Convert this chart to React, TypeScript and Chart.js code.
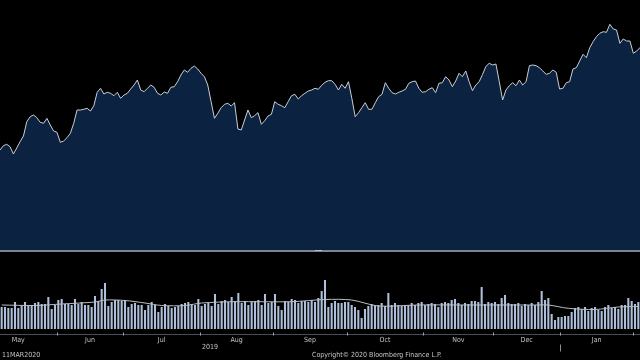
import React, { useEffect, useRef } from "react";
import { Chart, registerables } from "chart.js";

Chart.register(...registerables);

// Daily closing price (≈ mid-May 2019 → early Feb 2020)
const priceValues: number[] = [
  100, 104.3, 105.7, 103.3, 96, 102, 108.3, 114, 128.3, 133.3,
  135, 132.3, 127.7, 126.7, 131.7, 125, 119, 117.7, 107.7, 109,
  112.3, 116.7, 126.7, 140, 140, 140.7, 141.7, 139, 144.3, 157.7,
  161.7, 156, 157.7, 156.7, 154.3, 157.7, 151.7, 155, 156.7, 161,
  165, 170, 160, 158.3, 161.7, 165, 162.7, 156.7, 155, 158,
  156.7, 162.7, 163.3, 168.3, 175, 180, 177.7, 181.7, 184, 181,
  176.7, 173.3, 165, 148.3, 131.7, 136.7, 142.3, 145.7, 146.7, 144,
  147.3, 121, 120, 130, 140, 132.3, 134.3, 137.3, 125.7, 129.3,
  134, 135.7, 148.3, 145.7, 144.3, 142.3, 148.3, 154.3, 155.7, 151,
  154.3, 156.7, 159, 160, 161.7, 160.7, 164.7, 167.7, 169.3, 169.3,
  165.7, 160, 165.7, 161.7, 168.3, 151.7, 133.3, 137.3, 142.3, 147.3,
  140.7, 140.7, 147.3, 153.3, 155.7, 167.3, 161.7, 157.3, 156, 157.7,
  159, 160.7, 166.7, 168.3, 169, 161.7, 157.7, 158.3, 160.7, 162.3,
  157.3, 166.7, 167.3, 173.3, 170, 163.3, 169, 176.7, 173.3, 179,
  168.3, 159.3, 165, 168.3, 175.5, 183.5, 186.7, 185, 186, 168.3,
  150, 160, 164.3, 167.3, 164.3, 170, 165, 168.3, 184.3, 185,
  184.3, 182.3, 179, 175.7, 176.7, 180, 177.7, 161, 161.7, 167.3,
  168.3, 181, 182.3, 189, 195.7, 192.3, 202.3, 208.3, 213.3, 216.7,
  218.3, 217.7, 225.7, 221, 220, 206.7, 211, 209, 209, 196.7,
  199, 202.3,
];

// Daily volume
const volumeValues: number[] = [
  22, 22, 21, 21, 27, 21, 23, 27, 24, 23,
  26, 27, 25, 25, 32, 20, 24, 29, 30, 25,
  25, 24, 30, 25, 27, 24, 24, 22, 33, 28,
  40, 46, 23, 27, 29, 29, 28, 29, 22, 25,
  26, 24, 24, 19, 24, 27, 24, 17, 22, 25,
  23, 21, 22, 23, 25, 26, 27, 25, 24, 30,
  23, 25, 26, 23, 35, 25, 28, 29, 27, 32,
  28, 36, 26, 28, 24, 27, 28, 29, 24, 35,
  26, 27, 35, 23, 19, 28, 27, 30, 29, 26,
  28, 28, 27, 29, 27, 31, 38, 49, 22, 26,
  28, 26, 26, 27, 27, 24, 22, 19, 11, 20,
  23, 25, 24, 24, 26, 23, 36, 24, 26, 24,
  23, 24, 24, 26, 24, 26, 27, 24, 25, 26,
  25, 22, 26, 27, 26, 29, 30, 26, 24, 26,
  25, 28, 28, 27, 42, 25, 27, 26, 27, 25,
  31, 34, 26, 25, 25, 26, 23, 25, 24, 26,
  24, 27, 38, 29, 31, 15, 9, 12, 12, 13,
  13, 17, 21, 22, 20, 22, 18, 21, 22, 19,
  18, 22, 24, 21, 22, 20, 24, 24, 31, 28,
  25, 27,
];

// Volume moving average, read at these day indices
const maDayIndex: number[] = [0, 10, 18, 28, 31, 37, 43, 48, 55, 60, 70, 87, 97, 105, 113, 125, 143, 161, 164, 170, 178, 185, 191];
const maValues: number[] = [24, 23.5, 25, 27, 29, 28.5, 26, 23.5, 23.5, 26, 27.3, 27.3, 29.5, 29, 23, 24, 24, 24, 24, 20.7, 19.5, 22, 22.5];

// Month axis: names and index of first trading day of each month (last = Feb)
const monthNames: string[] = ["May", "Jun", "Jul", "Aug", "Sep", "Oct", "Nov", "Dec", "Jan"];
const monthStart: number[] = [-6, 17, 37, 60, 82, 104, 127, 148, 168, 190];
const yearLabel = "2019";
const yearLabelIndex = 62.5;
const yearBreakIndex = 168;

const dayLabels: string[] = priceValues.map((_, i) => "d" + i);

const FONT = "'Liberation Sans Narrow', 'DejaVu Sans Condensed', 'Liberation Sans', sans-serif";
const TEXT = "#c3c6cb";

export default function App() {
  const priceRef = useRef<HTMLCanvasElement | null>(null);
  const volRef = useRef<HTMLCanvasElement | null>(null);

  useEffect(() => {
    document.body.style.margin = "0";
    document.body.style.background = "#000";

    const priceChart = new Chart(priceRef.current!, {
      type: "line",
      data: {
        labels: dayLabels,
        datasets: [
          {
            data: priceValues,
            borderColor: "#c9ced6",
            borderWidth: 1,
            backgroundColor: "#0b2341",
            fill: "start",
            pointRadius: 0,
            tension: 0,
          },
        ],
      },
      options: {
        responsive: false,
        animation: false,
        maintainAspectRatio: false,
        layout: { padding: 0 },
        plugins: { legend: { display: false }, tooltip: { enabled: false } },
        scales: {
          x: { type: "category", display: false, offset: false },
          y: { display: false, min: 0, max: 250 },
        },
      },
    });

    const axisPlugin = {
      id: "monthAxis",
      afterDraw(chart: any) {
        const ctx = chart.ctx as CanvasRenderingContext2D;
        const xs = chart.scales.x;
        const area = chart.chartArea;
        const axisY = area.bottom + 5.5;
        ctx.save();
        // axis line
        ctx.strokeStyle = "#4a4f57";
        ctx.lineWidth = 1;
        ctx.beginPath();
        ctx.moveTo(0, axisY);
        ctx.lineTo(chart.width, axisY);
        ctx.stroke();
        // boundary ticks
        ctx.strokeStyle = "#9ea4ad";
        for (let m = 1; m < monthStart.length; m++) {
          const x = Math.round(xs.getPixelForValue(monthStart[m] - 0.5)) + 0.5;
          ctx.beginPath();
          ctx.moveTo(x, axisY - 2);
          ctx.lineTo(x, axisY + 1);
          ctx.stroke();
        }
        // month labels
        ctx.fillStyle = TEXT;
        ctx.font = "7px " + FONT;
        ctx.textAlign = "center";
        ctx.textBaseline = "middle";
        for (let m = 0; m < monthNames.length; m++) {
          const x = (xs.getPixelForValue(monthStart[m] - 0.5) + xs.getPixelForValue(monthStart[m + 1] - 0.5)) / 2;
          ctx.fillText(monthNames[m], x, axisY + 6);
        }
        // year label and year break
        ctx.fillText(yearLabel, xs.getPixelForValue(yearLabelIndex), axisY + 13);
        const yb = Math.round(xs.getPixelForValue(yearBreakIndex - 0.5)) + 0.5;
        ctx.strokeStyle = "#8a9099";
        ctx.beginPath();
        ctx.moveTo(yb, axisY + 10);
        ctx.lineTo(yb, axisY + 17);
        ctx.stroke();
        // footer
        ctx.textAlign = "left";
        ctx.fillText("11MAR2020", 2, axisY + 21);
        ctx.fillText("Copyright\u00A9 2020 Bloomberg Finance L.P.", 312, axisY + 21);
        ctx.restore();
      },
    };

    const volChart = new Chart(volRef.current!, {
      type: "bar",
      data: {
        labels: dayLabels,
        datasets: [
          {
            type: "line",
            data: maDayIndex.map((d, i) => ({ x: dayLabels[d], y: maValues[i] })) as any,
            borderColor: "#b9bcc2",
            borderWidth: 1,
            pointRadius: 0,
            fill: false,
            tension: 0.3,
            order: 0,
          },
          {
            type: "bar",
            data: volumeValues,
            backgroundColor: "#aebfdc",
            barPercentage: 0.62,
            categoryPercentage: 1,
            order: 1,
          },
        ],
      },
      options: {
        responsive: false,
        animation: false,
        maintainAspectRatio: false,
        layout: { padding: { top: 0, bottom: 31, left: 0, right: 0 } },
        plugins: { legend: { display: false }, tooltip: { enabled: false } },
        scales: {
          x: { type: "category", display: false, offset: true },
          y: { display: false, min: 0, max: 77 },
        },
      },
      plugins: [axisPlugin],
    });

    return () => {
      priceChart.destroy();
      volChart.destroy();
    };
  }, []);

  return (
    <div style={{ position: "relative", width: 640, height: 360, background: "#000", overflow: "hidden" }}>
      <canvas ref={priceRef} width={640} height={250} style={{ position: "absolute", left: 0, top: 0 }} />
      <div style={{ position: "absolute", left: 0, top: 250, width: 640, height: 2, background: "#7b8491" }} />
      <div style={{ position: "absolute", left: 315, top: 250, width: 7, height: 1, background: "#b9c1cc" }} />
      <canvas ref={volRef} width={640} height={108} style={{ position: "absolute", left: 0, top: 252 }} />
    </div>
  );
}
